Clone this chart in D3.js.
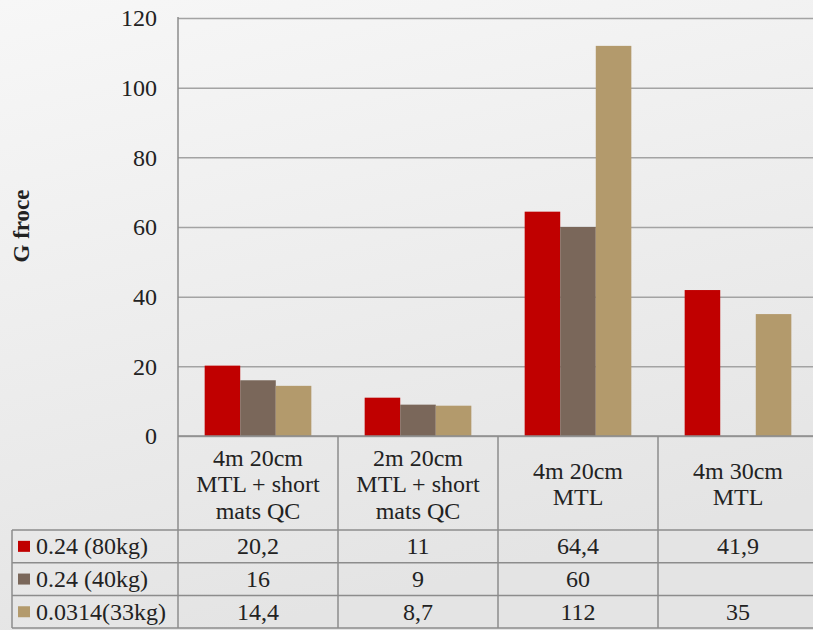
<!DOCTYPE html>
<html>
<head>
<meta charset="utf-8">
<script src="https://cdn.jsdelivr.net/npm/d3@7"></script>
<style>
  html, body { margin: 0; padding: 0; background: #ececec; }
  svg { display: block; }
  svg text { font-family: "Liberation Serif", "Times New Roman", serif; fill: #222; }
</style>
</head>
<body>
<svg id="chart" width="813" height="630"></svg>
<script>
// Drop-test G force per surface configuration
const categories = [
  ["4m 20cm", "MTL + short", "mats QC"],
  ["2m 20cm", "MTL + short", "mats QC"],
  ["4m 20cm", "MTL"],
  ["4m 30cm", "MTL"]
];
const seriesNames = ["0.24 (80kg)", "0.24 (40kg)", "0.0314(33kg)"];
const seriesColors = ["#c00000", "#7a675a", "#b39a6c"];
const valuesHeavy = [20.2, 11, 64.4, 41.9];
const valuesLight = [16, 9, 60, null];
const valuesSmall = [14.4, 8.7, 112, 35];
const valueLabels = [
  ["20,2", "11", "64,4", "41,9"],
  ["16", "9", "60", ""],
  ["14,4", "8,7", "112", "35"]
];
const yTicks = [0, 20, 40, 60, 80, 100, 120];
const yTitle = "G froce";

const series = [valuesHeavy, valuesLight, valuesSmall];

const svg = d3.select("#chart");
const W = 813, H = 630;
const plotLeft = 178, plotTop = 18, zeroY = 436, colW = 160;
const tableTop = 530, rowH = 32.7, tableLeft = 12;
const fontSerif = '"Liberation Serif", "Times New Roman", serif';
const fontPx = "24px";
const gridColor = "#a3a3a3";
const lineColor = "#8c8c8c";

// background
const defs = svg.append("defs");
const grad = defs.append("linearGradient").attr("id", "bg")
  .attr("x1", "0").attr("y1", "0").attr("x2", "0.3").attr("y2", "1");
grad.append("stop").attr("offset", "0").attr("stop-color", "#f7f7f7");
grad.append("stop").attr("offset", "1").attr("stop-color", "#e4e4e4");
svg.append("rect").attr("width", W).attr("height", H).attr("fill", "url(#bg)");

const catIdx = d3.range(categories.length);
const x0 = d3.scaleBand().domain(catIdx).range([plotLeft, plotLeft + colW * categories.length]);
const x1 = d3.scaleBand().domain(d3.range(series.length)).range([0, x0.bandwidth()])
  .paddingInner(0).paddingOuter(0.75);
const y = d3.scaleLinear().domain([0, 120]).range([zeroY, plotTop]);

// gridlines and tick labels
const yAxis = d3.axisLeft(y).tickValues(yTicks).tickSize(-(x0.range()[1] - plotLeft)).tickPadding(21);
const gAxis = svg.append("g").attr("transform", `translate(${plotLeft},0)`).call(yAxis);
gAxis.select(".domain").remove();
gAxis.selectAll(".tick line").attr("stroke", gridColor).attr("stroke-width", 1.5);
gAxis.selectAll(".tick text")
  .style("font-family", fontSerif).style("font-size", fontPx).style("fill", "#222");

// bars
series.forEach((vals, s) => {
  svg.append("g").selectAll("rect")
    .data(vals.map((v, i) => ({ v, i })).filter(d => d.v != null))
    .join("rect")
    .attr("x", d => x0(d.i) + x1(s))
    .attr("width", x1.bandwidth())
    .attr("y", d => y(d.v))
    .attr("height", d => y(0) - y(d.v))
    .attr("fill", seriesColors[s]);
});

// vertical axis line down through table
svg.append("line").attr("x1", plotLeft).attr("x2", plotLeft)
  .attr("y1", plotTop - 1).attr("y2", tableTop + rowH * 3)
  .attr("stroke", lineColor).attr("stroke-width", 1.5);

// data table grid
const tableRight = x0.range()[1];
const hLines = [zeroY, tableTop, tableTop + rowH, tableTop + rowH * 2, tableTop + rowH * 3];
hLines.forEach((yy, k) => {
  svg.append("line")
    .attr("x1", k === 0 ? plotLeft : tableLeft).attr("x2", tableRight)
    .attr("y1", yy).attr("y2", yy)
    .attr("stroke", lineColor).attr("stroke-width", 1.5);
});
svg.append("line").attr("x1", tableLeft).attr("x2", tableLeft)
  .attr("y1", tableTop).attr("y2", tableTop + rowH * 3)
  .attr("stroke", lineColor).attr("stroke-width", 1.5);
catIdx.forEach(i => {
  const xx = x0(i) + colW;
  svg.append("line").attr("x1", xx).attr("x2", xx)
    .attr("y1", zeroY).attr("y2", tableTop + rowH * 3)
    .attr("stroke", lineColor).attr("stroke-width", 1.5);
});

// category header labels
const lineH = 26.5;
categories.forEach((lines, i) => {
  const cx = x0(i) + colW / 2;
  const cy = (zeroY + tableTop) / 2 + 1;
  const startY = cy - (lines.length - 1) * lineH / 2;
  const t = svg.append("text").attr("text-anchor", "middle")
    .style("font-family", fontSerif).style("font-size", fontPx);
  lines.forEach((ln, k) => {
    t.append("tspan").attr("x", cx).attr("y", startY + k * lineH)
      .attr("dominant-baseline", "central").text(ln);
  });
});

// table rows: legend key, name, values
seriesNames.forEach((name, s) => {
  const cy = tableTop + rowH * s + rowH / 2;
  svg.append("rect").attr("x", 18).attr("y", cy - 5.5).attr("width", 12).attr("height", 11)
    .attr("fill", seriesColors[s]);
  svg.append("text").attr("x", 36).attr("y", cy).attr("dominant-baseline", "central")
    .style("font-family", fontSerif).style("font-size", fontPx).text(name);
  valueLabels[s].forEach((lbl, i) => {
    svg.append("text").attr("x", x0(i) + colW / 2).attr("y", cy)
      .attr("text-anchor", "middle").attr("dominant-baseline", "central")
      .style("font-family", fontSerif).style("font-size", fontPx).text(lbl);
  });
});

// y-axis title
svg.append("text")
  .attr("transform", `translate(21,226) rotate(-90)`)
  .attr("text-anchor", "middle").attr("dominant-baseline", "central")
  .style("font-family", fontSerif).style("font-size", "23px").style("font-weight", "bold")
  .text(yTitle);
</script>
</body>
</html>
